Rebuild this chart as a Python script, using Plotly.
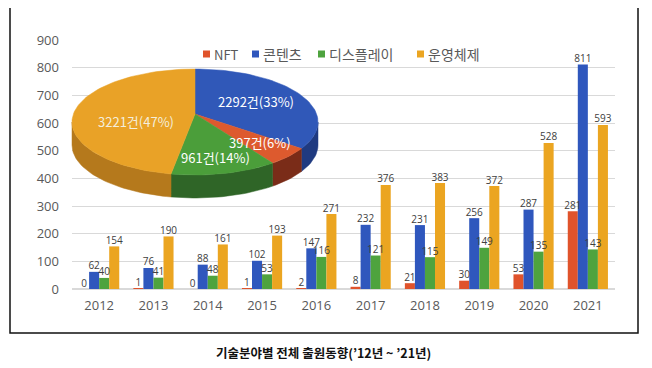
import math
import plotly.graph_objects as go

# ---------------- data ----------------
years = ["2012", "2013", "2014", "2015", "2016", "2017", "2018", "2019", "2020", "2021"]
series_names = ["NFT", "콘텐츠", "디스플레이", "운영체제"]
nft = [0, 1, 0, 1, 2, 8, 21, 30, 53, 281]
content = [62, 76, 88, 102, 147, 232, 231, 256, 287, 811]
display = [40, 41, 48, 53, 116, 121, 115, 149, 135, 143]
os_sys = [154, 190, 161, 193, 271, 376, 383, 372, 528, 593]
y_ticks = [0, 100, 200, 300, 400, 500, 600, 700, 800, 900]
caption = "기술분야별 전체 출원동향(’12년 ~ ’21년)"

# ---------------- style ----------------
W, H = 652, 368
OFF = 8  # page body margin
bar_colors = ["#E0532B", "#2F57BD", "#4EA33E", "#EBA521"]
pie_colors = ["#DD5A2E", "#3058B8", "#4B9E3A", "#E9A227"]
side_colors = ["#7A2C18", "#1F3A80", "#2F6527", "#B5791C"]
KR = "Noto Sans CJK KR"
NUM = "Open Sans"
GAP = 0.26

def xp(px):
    return (px - OFF) / W

def yp(py):
    return 1 - (py - OFF) / H

fig = go.Figure()

all_series = [nft, content, display, os_sys]
for k, (name, vals, col) in enumerate(zip(series_names, all_series, bar_colors)):
    fig.add_trace(go.Bar(
        x=years, y=vals, name=name, marker=dict(color=col, line=dict(width=0)),
        offsetgroup=str(k), showlegend=False, xaxis="x", yaxis="y",
    ))
# value labels drawn above all bars
for k, (name, vals) in enumerate(zip(series_names, all_series)):
    fig.add_trace(go.Scatter(
        x=years, y=vals, mode="text", text=[str(v) for v in vals],
        textposition="top center", offsetgroup=str(k),
        textfont=dict(size=10, color="#404040", family=NUM),
        cliponaxis=False, showlegend=False, hoverinfo="skip",
        xaxis="x", yaxis="y",
    ))

# ---------------- 3D-looking pie drawn on a pixel-unit overlay axis ----------------
totals = [sum(s) for s in all_series]
total = sum(totals)
order = [1, 0, 2, 3]  # clockwise from 12 o'clock
cx, cy, rx, ry = 195, 122, 123, 53
hub_x, hub_y = 195, 114
depth = 23

def pt(phi_deg):
    p = math.radians(phi_deg)
    return cx + rx * math.sin(p), cy - ry * math.cos(p)

spans = []
start = 0.0
for i in order:
    ang = totals[i] / total * 360.0
    spans.append((i, start, start + ang))
    start += ang

for i, a0, a1 in spans:
    s0, s1 = max(a0, 90), min(a1, 270)
    if s1 <= s0:
        continue
    n = max(4, int((s1 - s0) / 2))
    angs = [s0 + (s1 - s0) * k / n for k in range(n + 1)]
    top = [pt(a) for a in angs]
    xs = [p[0] for p in top] + [p[0] for p in reversed(top)]
    ys = [p[1] for p in top] + [p[1] + depth for p in reversed(top)]
    fig.add_trace(go.Scatter(
        x=xs + [xs[0]], y=ys + [ys[0]], mode="lines", fill="toself",
        fillcolor=side_colors[i], line=dict(width=0.5, color=side_colors[i]),
        hoverinfo="skip", showlegend=False, xaxis="x2", yaxis="y2",
    ))

label_f = {1: 0.57, 0: 0.70, 2: 0.68, 3: 0.48}
label_dy = {1: -2, 0: -1, 2: 3, 3: 6}
for i, a0, a1 in spans:
    n = max(4, int((a1 - a0) / 2))
    angs = [a0 + (a1 - a0) * k / n for k in range(n + 1)]
    arc = [pt(a) for a in angs]
    xs = [hub_x] + [p[0] for p in arc] + [hub_x]
    ys = [hub_y] + [p[1] for p in arc] + [hub_y]
    fig.add_trace(go.Scatter(
        x=xs, y=ys, mode="lines", fill="toself", fillcolor=pie_colors[i],
        line=dict(width=0.5, color=pie_colors[i]),
        hoverinfo="skip", showlegend=False, xaxis="x2", yaxis="y2",
    ))
    mx, my = pt((a0 + a1) / 2)
    f = label_f[i]
    lx = hub_x + f * (mx - hub_x)
    ly = hub_y + f * (my - hub_y) + label_dy[i]
    pct = round(totals[i] / total * 100)
    fig.add_annotation(
        x=lx, y=ly, xref="x2", yref="y2", showarrow=False,
        text=f"{totals[i]}건({pct}%)",
        font=dict(size=13, color="#F4EEDC" if i == 3 else "#FFFFFF", family=KR),
    )

# ---------------- legend (manual) ----------------
legend_x = [203, 252, 318, 417]
for name, col, lx in zip(series_names, bar_colors, legend_x):
    fig.add_shape(type="rect", xref="paper", yref="paper",
                  x0=xp(lx), x1=xp(lx + 7), y0=yp(57.5), y1=yp(50.5),
                  fillcolor=col, line=dict(width=0))
    fig.add_annotation(x=xp(lx + 9), y=yp(54), xref="paper", yref="paper",
                       xanchor="left", yanchor="middle", showarrow=False,
                       text=name, font=dict(size=14 if name != "NFT" else 13,
                                            color="#595959", family=KR))

fig.add_annotation(x=xp(323), y=yp(352), xref="paper", yref="paper",
                   xanchor="center", yanchor="middle",
                   showarrow=False, text=f"<b>{caption}</b>",
                   font=dict(size=12.5, color="#111111", family=KR))

fig.add_shape(type="rect", xref="paper", yref="paper",
              x0=xp(10), x1=xp(638), y0=yp(333), y1=yp(7),
              line=dict(color="#111111", width=1.5), fillcolor="rgba(0,0,0,0)")

fig.update_layout(
    width=W, height=H, margin=dict(l=0, r=0, t=0, b=0),
    paper_bgcolor="white", plot_bgcolor="rgba(0,0,0,0)",
    barmode="group", bargap=GAP, bargroupgap=0,
    scattermode="group", scattergap=GAP,
    xaxis=dict(domain=[xp(72), xp(615)], showgrid=False, showline=False,
               ticks="", tickfont=dict(size=13, color="#595959", family=NUM),
               ticklabelstandoff=7, automargin=False, fixedrange=True),
    yaxis=dict(domain=[yp(289), yp(40)], range=[0, 900], tickvals=y_ticks,
               showgrid=True, gridcolor="#D9D9D9", gridwidth=1,
               zeroline=True, zerolinecolor="#D9D9D9", showline=False, ticks="",
               tickfont=dict(size=13, color="#595959", family=NUM),
               ticklabelstandoff=12, automargin=False, fixedrange=True),
    xaxis2=dict(domain=[0, 1], range=[OFF, W + OFF], visible=False, anchor="y2",
                fixedrange=True),
    yaxis2=dict(domain=[0, 1], range=[H + OFF, OFF], visible=False, anchor="x2",
                fixedrange=True),
    showlegend=False,
)

fig.write_html("out.html")
